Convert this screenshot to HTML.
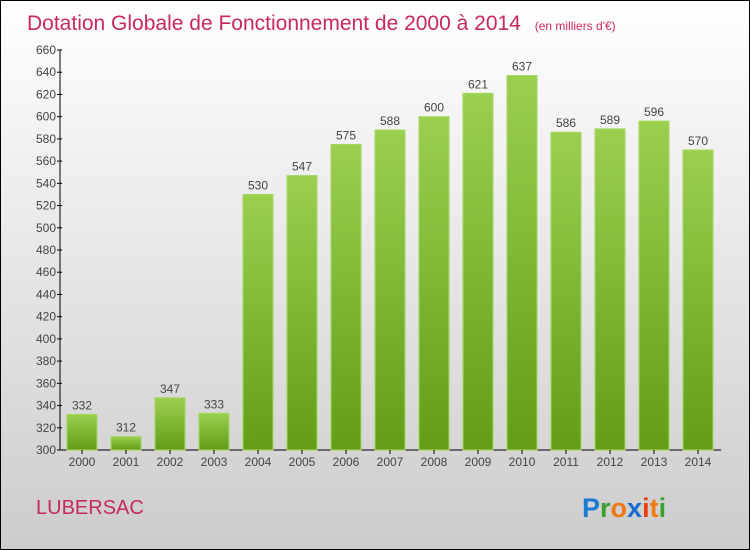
<!DOCTYPE html>
<html><head><meta charset="utf-8"><style>
body{margin:0}
svg{display:block;font-family:"Liberation Sans",sans-serif}
</style></head><body>
<svg width="750" height="550">
<defs>
<linearGradient id="bg" x1="0" y1="0" x2="0" y2="1"><stop offset="0" stop-color="#ffffff"/><stop offset="1" stop-color="#cccccc"/></linearGradient>
<linearGradient id="bar" x1="0" y1="0" x2="0" y2="1"><stop offset="0" stop-color="#9ad04e"/><stop offset="1" stop-color="#649c16"/></linearGradient>
</defs>
<rect x="0.5" y="0.5" width="749" height="549" fill="url(#bg)" stroke="#000"/>
<text x="27" y="30" font-size="21" fill="#c8285a">Dotation Globale de Fonctionnement de 2000 à 2014 <tspan font-size="12" dx="8">(en milliers d'€)</tspan></text>
<g id="plot"></g>
<text x="36" y="514" font-size="20" fill="#c8285a">LUBERSAC</text>
<text x="582" y="517" font-size="27" font-weight="bold"><tspan fill="#1a7ad4">P</tspan><tspan fill="#3aa030">r</tspan><tspan fill="#f07a10">o</tspan><tspan fill="#1a6ad4">x</tspan><tspan fill="#e84010">i</tspan><tspan fill="#f07a10">t</tspan><tspan fill="#3aa030">i</tspan></text>
</svg>
<script>
const years=["2000","2001","2002","2003","2004","2005","2006","2007","2008","2009","2010","2011","2012","2013","2014"];
const values=[332,312,347,333,530,547,575,588,600,621,637,586,589,596,570];
const yTicks=[300,320,340,360,380,400,420,440,460,480,500,520,540,560,580,600,620,640,660];
const NS="http://www.w3.org/2000/svg";
const g=document.getElementById('plot');
const y=v=>450-(v-300)*400/360;
const x=i=>82+i*44;
function mk(t,a,txt){const e=document.createElementNS(NS,t);for(const k in a)e.setAttribute(k,a[k]);if(txt!=null)e.textContent=txt;g.appendChild(e);return e;}
let e=mk('line',{x1:60,y1:50,x2:60,y2:450,stroke:'#000'});


e=mk('line',{x1:60,y1:450,x2:721,y2:450,stroke:'#000'});


yTicks.forEach(v=>{
 let t=mk('line',{x1:57,y1:y(v),x2:62,y2:y(v),stroke:'#000'});
 
 
 let l=mk('text',{x:56,y:y(v)+4,'font-size':12,'text-anchor':'end',fill:'#444'},v);
 
 
});
values.forEach((v,i)=>{
 let b=mk('rect',{x:x(i)-15,y:y(v),width:30,height:450-y(v),fill:'url(#bar)',stroke:'#a4d860','stroke-width':1});
 
 
 let l=mk('text',{x:x(i),y:y(v)-5,'font-size':12,'text-anchor':'middle',fill:'#444'},v);
 
 
 let t=mk('line',{x1:x(i),y1:450,x2:x(i),y2:454,stroke:'#000'});
 
 
 let xl=mk('text',{x:x(i),y:466,'font-size':12,'text-anchor':'middle',fill:'#444'},years[i]);
 
 
});
</script>
</body></html>
